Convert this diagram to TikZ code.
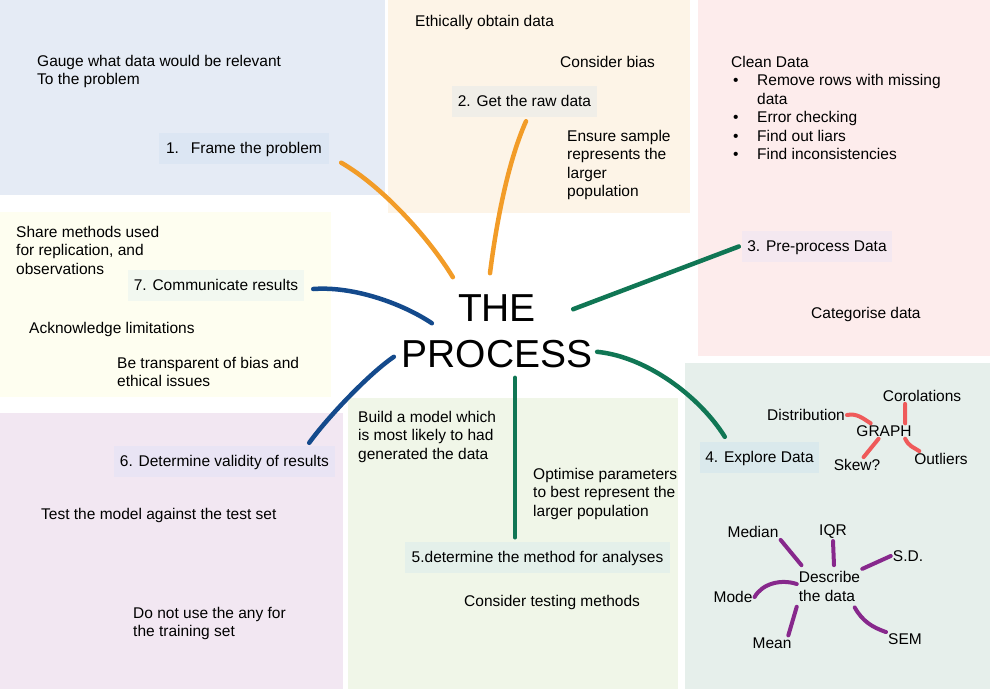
\documentclass[tikz,border=0pt]{standalone}
\usepackage{fontspec}
\setmainfont{Liberation Sans}
\definecolor{frameback}{RGB}{229,235,245}
\definecolor{rawback}{RGB}{253,244,231}
\definecolor{preback}{RGB}{253,236,236}
\definecolor{exploreback}{RGB}{230,239,235}
\definecolor{methodback}{RGB}{240,246,232}
\definecolor{validback}{RGB}{242,231,242}
\definecolor{commback}{RGB}{254,254,240}
\definecolor{framebox}{RGB}{220,230,243}
\definecolor{rawbox}{RGB}{240,238,232}
\definecolor{prebox}{RGB}{244,232,240}
\definecolor{explorebox}{RGB}{218,233,236}
\definecolor{methodbox}{RGB}{228,240,234}
\definecolor{validbox}{RGB}{233,228,244}
\definecolor{commbox}{RGB}{242,248,240}
\definecolor{darkorange}{RGB}{242,156,40}
\definecolor{darkgreen}{RGB}{16,118,84}
\definecolor{darkblue}{RGB}{20,74,140}
\definecolor{salmonred}{RGB}{239,90,90}
\definecolor{plumpurple}{RGB}{135,40,140}
\tikzstyle{stepbox}=[minimum height=31pt,inner sep=0pt,text height=11pt,text depth=1pt,font=\fontsize{15.5}{18.5}\selectfont]
\tikzstyle{note}=[anchor=north west,align=left,inner sep=0pt,font=\fontsize{15.5}{18.5}\selectfont]
\tikzstyle{leaf}=[inner sep=2pt,font=\fontsize{15.5}{18.5}\selectfont]
\tikzstyle{thickarc}=[line width=4.5pt,line cap=round]
\tikzstyle{thinarc}=[line width=4pt,line cap=round]

\begin{document}
\begin{tikzpicture}[x=1pt,y=-1pt]
\useasboundingbox (0,0) rectangle (990,689);

% background panels
\fill[frameback] (0,0) rectangle (385,195);
\fill[rawback] (388,0) rectangle (690,213);
\fill[preback] (698,0) rectangle (990,356);
\fill[commback] (0,212) rectangle (331,397);
\fill[validback] (0,413) rectangle (343,689);
\fill[methodback] (348,398) rectangle (678,689);
\fill[exploreback] (685,363) rectangle (990,689);

\node[font=\fontsize{39}{46}\selectfont,align=center,inner sep=0pt] (P) at (497,331) {THE\\PROCESS};

\node[stepbox,fill=framebox,minimum width=170pt] (S1) at (244,148) {1.\hspace{12pt}Frame the problem};
\node[stepbox,fill=rawbox,minimum width=145pt] (S2) at (524.5,101.5) {2. Get the raw data};
\node[stepbox,fill=prebox,minimum width=150pt] (S3) at (817,246) {3. Pre-process Data};
\node[stepbox,fill=explorebox,minimum width=119pt] (S4) at (759.5,457.5) {4. Explore Data};
\node[stepbox,fill=methodbox,minimum width=265pt] (S5) at (537.5,557) {5.determine the method for analyses};
\node[stepbox,fill=validbox,minimum width=221pt] (S6) at (224.5,461.5) {6. Determine validity of results};
\node[stepbox,fill=commbox,minimum width=176pt] (S7) at (216,285.5) {7. Communicate results};

% notes
\node[note] (gauge) at (37,55) {Gauge what data would be relevant\\To the problem};
\node[note] (ethic) at (415,15) {Ethically obtain data};
\node[note] (bias) at (560,56) {Consider bias};
\node[note] (sample) at (567,130) {Ensure sample\\represents the\\larger\\population};
\node[note] (clean) at (731,56) {Clean Data\\
\makebox[26pt][l]{\hspace{2pt}\textbullet}Remove rows with missing\\
\hspace*{26pt}data\\
\makebox[26pt][l]{\hspace{2pt}\textbullet}Error checking\\
\makebox[26pt][l]{\hspace{2pt}\textbullet}Find out liars\\
\makebox[26pt][l]{\hspace{2pt}\textbullet}Find inconsistencies};
\node[note] (categ) at (811,307) {Categorise data};
\node[note] (share) at (16,226) {Share methods used\\for replication, and\\observations};
\node[note] (limits) at (29,322) {Acknowledge limitations};
\node[note] (transp) at (117,357) {Be transparent of bias and\\ethical issues};
\node[note] (testset) at (41,508) {Test the model against the test set};
\node[note] (notrain) at (133,607) {Do not use the any for\\the training set};
\node[note] (model) at (358,411) {Build a model which\\is most likely to had\\generated the data};
\node[note] (optim) at (533,468) {Optimise parameters\\to best represent the\\larger population};
\node[note] (testing) at (464,595) {Consider testing methods};

% explore data: graph map
\node[leaf] (dist) at (806,415) {Distribution};
\node[leaf] (graph) at (884,431) {GRAPH};
\node[leaf] (corol) at (922,396) {Corolations};
\node[leaf] (outl) at (941,459) {Outliers};
\node[leaf] (skew) at (857,465) {Skew?};

% explore data: describe map
\node[leaf,align=left,inner ysep=6pt] (desc) at (829.5,586.3) {Describe\\the data};
\node[leaf] (median) at (753,532) {Median};
\node[leaf] (iqr) at (833,532) {IQR};
\node[leaf] (sd) at (908,556) {S.D.};
\node[leaf] (mode) at (733,597) {Mode};
\node[leaf] (mean) at (772,643) {Mean};
\node[leaf] (sem) at (905,639) {SEM};

\coordinate (S1END) at ([shift={(12,-1)}]S1.south east);
\coordinate (S2END) at ([shift={(1.5,4)}]S2.south);
\coordinate (S3END) at ([shift={(-3,0.5)}]S3.west);
\coordinate (S4END) at ([shift={(25,-5)}]S4.north west);
\coordinate (S5END) at ([shift={(-22.5,-4)}]S5.north);
\coordinate (S6END) at ([shift={(-26,-3)}]S6.north east);
\coordinate (S7END) at ([shift={(9,3.5)}]S7.east);

\coordinate (PIN1) at ([shift={(51.4,-17)}]P.north west);
\coordinate (PIN2) at ([shift={(-7,-21)}]P.north);
\coordinate (PIN3) at ([shift={(-19.4,15)}]P.north east);
\coordinate (PIN4) at ([shift={(4.6,-16)}]P.south east);
\coordinate (PIN5) at ([shift={(18,10)}]P.south);
\coordinate (PIN6) at ([shift={(-7.6,-11)}]P.south west);
\coordinate (PIN7) at ([shift={(30.4,29)}]P.north west);

\draw[thickarc,darkorange] (S1END) .. controls +(40,23) and +(-25,-41) .. (PIN1);
\draw[thickarc,darkorange] (S2END) .. controls +(-20,45) and +(5,-40) .. (PIN2);
\draw[thickarc,darkgreen] (PIN3) -- (S3END);
\draw[thickarc,darkgreen] (PIN4) .. controls +(50,5) and +(-25,-40) .. (S4END);
\draw[thickarc,darkgreen] (PIN5) -- (S5END);
\draw[thickarc,darkblue] (PIN6) .. controls +(-25,17) and +(18,-25) .. (S6END);
\draw[thickarc,darkblue] (S7END) .. controls +(40,-3) and +(-30,-20) .. (PIN7);

\draw[thinarc,salmonred] (dist.east) .. controls +(10,-2) and +(-8,-5) .. (graph.150);
\draw[thinarc,salmonred] (corol.205) -- (graph.20);
\draw[thinarc,salmonred] (graph.340) .. controls +(4,8) and +(-6,-4) .. (outl.160);
\draw[thinarc,salmonred] (graph.235) -- (skew.50);

\draw[thinarc,plumpurple] (median.south east) -- (desc.143);
\draw[thinarc,plumpurple] (iqr.south) -- (desc.78);
\draw[thinarc,plumpurple] (desc.28) -- (sd.west);
\draw[thinarc,plumpurple] (mode.east) .. controls +(8,-14) and +(-15,-5) .. (desc.176);
\draw[thinarc,plumpurple] (desc.212) -- (mean.25);
\draw[thinarc,plumpurple] (desc.320) .. controls +(8,14) and +(-14,-5) .. (sem.160);

\end{tikzpicture}
\end{document}
